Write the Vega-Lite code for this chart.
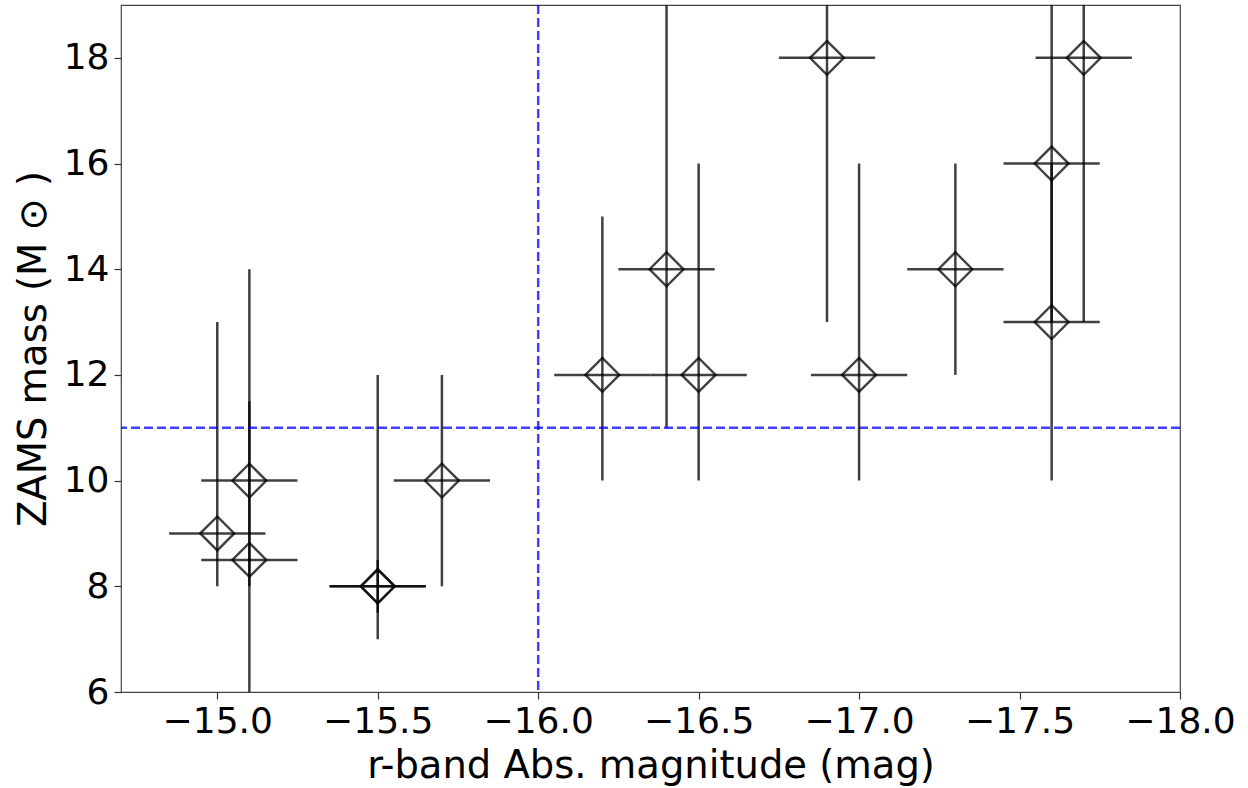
{
  "$schema": "https://vega.github.io/schema/vega-lite/v6.json",
  "width": 1059,
  "height": 687,
  "autosize": {"type": "none"},
  "padding": {"left": 121, "top": 5, "right": 68, "bottom": 96},
  "background": "white",
  "config": {
    "view": {"stroke": "#444", "strokeWidth": 1.2},
    "font": "DejaVu Sans",
    "axis": {
      "grid": false,
      "domain": false,
      "tickColor": "#333",
      "tickSize": 7,
      "tickWidth": 1.2,
      "labelFont": "DejaVu Sans",
      "labelFontSize": 36,
      "labelColor": "#000",
      "labelOverlap": false,
      "labelFlush": false,
      "titleFont": "DejaVu Sans",
      "titleFontSize": 38.5,
      "titleFontWeight": "normal",
      "titleColor": "#000",
      "labelPadding": 5
    }
  },
  "datasets": {
    "pts": [
      {"mag": -15.0, "mass": 9, "mag_lo": -14.85, "mag_hi": -15.15, "mass_lo": 8, "mass_hi": 13},
      {"mag": -15.1, "mass": 10, "mag_lo": -14.95, "mag_hi": -15.25, "mass_lo": 8, "mass_hi": 11.5},
      {"mag": -15.1, "mass": 8.5, "mag_lo": -14.95, "mag_hi": -15.25, "mass_lo": 5, "mass_hi": 14},
      {"mag": -15.5, "mass": 8, "mag_lo": -15.35, "mag_hi": -15.65, "mass_lo": 7, "mass_hi": 12},
      {"mag": -15.5, "mass": 8, "mag_lo": -15.35, "mag_hi": -15.65, "mass_lo": 7.5, "mass_hi": 8.5},
      {"mag": -15.7, "mass": 10, "mag_lo": -15.55, "mag_hi": -15.85, "mass_lo": 8, "mass_hi": 12},
      {"mag": -16.2, "mass": 12, "mag_lo": -16.05, "mag_hi": -16.35, "mass_lo": 10, "mass_hi": 15},
      {"mag": -16.4, "mass": 14, "mag_lo": -16.25, "mag_hi": -16.55, "mass_lo": 11, "mass_hi": 21},
      {"mag": -16.5, "mass": 12, "mag_lo": -16.35, "mag_hi": -16.65, "mass_lo": 10, "mass_hi": 16},
      {"mag": -16.9, "mass": 18, "mag_lo": -16.75, "mag_hi": -17.05, "mass_lo": 13, "mass_hi": 21},
      {"mag": -17.0, "mass": 12, "mag_lo": -16.85, "mag_hi": -17.15, "mass_lo": 10, "mass_hi": 16},
      {"mag": -17.3, "mass": 14, "mag_lo": -17.15, "mag_hi": -17.45, "mass_lo": 12, "mass_hi": 16},
      {"mag": -17.6, "mass": 16, "mag_lo": -17.45, "mag_hi": -17.75, "mass_lo": 13, "mass_hi": 21},
      {"mag": -17.6, "mass": 13, "mag_lo": -17.45, "mag_hi": -17.75, "mass_lo": 10, "mass_hi": 16},
      {"mag": -17.7, "mass": 18, "mag_lo": -17.55, "mag_hi": -17.85, "mass_lo": 13, "mass_hi": 21}
    ],
    "vline": [{"mag": -16.0}],
    "hline": [{"mass": 11}]
  },
  "encoding": {
    "x": {
      "field": "mag",
      "type": "quantitative",
      "scale": {"domain": [-14.7, -18.0], "nice": false, "zero": false},
      "axis": {
        "values": [-15.0, -15.5, -16.0, -16.5, -17.0, -17.5, -18.0],
        "format": ".1f",
        "title": "r-band Abs. magnitude (mag)",
        "titlePadding": 8
      }
    },
    "y": {
      "field": "mass",
      "type": "quantitative",
      "scale": {"domain": [6, 19], "nice": false, "zero": false},
      "axis": {
        "values": [6, 8, 10, 12, 14, 16, 18],
        "format": "d",
        "title": "ZAMS mass (M ⊙ )",
        "titlePadding": 10
      }
    }
  },
  "layer": [
    {
      "data": {"name": "pts"},
      "mark": {"type": "rule", "clip": true, "color": "#000", "opacity": 0.75, "strokeWidth": 2.5},
      "encoding": {
        "y": {"field": "mass_lo", "type": "quantitative"},
        "y2": {"field": "mass_hi"}
      }
    },
    {
      "data": {"name": "pts"},
      "mark": {"type": "rule", "clip": true, "color": "#000", "opacity": 0.75, "strokeWidth": 2.5},
      "encoding": {
        "x": {"field": "mag_lo", "type": "quantitative"},
        "x2": {"field": "mag_hi"}
      }
    },
    {
      "data": {"name": "pts"},
      "mark": {"type": "point", "shape": "diamond", "size": 1156, "filled": false, "stroke": "#000", "strokeOpacity": 0.75, "opacity": 1, "strokeWidth": 2.4, "clip": true}
    },
    {
      "data": {"name": "vline"},
      "mark": {"type": "rule", "color": "#0000ff", "opacity": 0.75, "strokeWidth": 2.5, "strokeDash": [9, 4]},
      "encoding": {"y": null}
    },
    {
      "data": {"name": "hline"},
      "mark": {"type": "rule", "color": "#0000ff", "opacity": 0.75, "strokeWidth": 2.5, "strokeDash": [9, 4]},
      "encoding": {"x": null}
    }
  ]
}
